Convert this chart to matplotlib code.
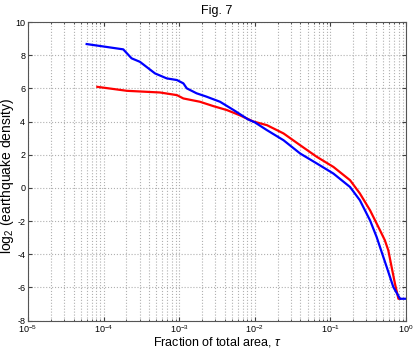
import matplotlib
matplotlib.use('Agg')
import matplotlib.pyplot as plt
from matplotlib.ticker import LogLocator, NullFormatter

plt.rcParams['font.family'] = ['Liberation Sans', 'DejaVu Sans']
plt.rcParams['mathtext.fontset'] = 'custom'
plt.rcParams['mathtext.rm'] = 'Liberation Sans'
plt.rcParams['mathtext.it'] = 'Liberation Sans:italic'
plt.rcParams['axes.unicode_minus'] = False

# blue curve (log10 of area fraction, log2 density)
blue_logx = [-4.224, -3.74, -3.63, -3.52, -3.32, -3.165, -3.03, -2.945, -2.90, -2.77,
             -2.64, -2.46, -2.28, -2.09, -2.0, -1.84, -1.62, -1.40, -1.18, -0.96,
             -0.74, -0.61, -0.476, -0.388, -0.344, -0.255, -0.168, -0.079, 0.0]
blue_y = [8.67, 8.35, 7.81, 7.6, 6.9, 6.6, 6.5, 6.3, 6.0, 5.7,
          5.5, 5.19, 4.69, 4.13, 3.95, 3.48, 2.87, 2.07, 1.47, 0.86,
          0.05, -0.75, -1.96, -2.97, -3.57, -4.78, -5.98, -6.69, -6.69]

# red curve
red_logx = [-4.083, -3.69, -3.254, -3.03, -2.945, -2.725, -2.55, -2.37, -2.20, -2.02,
            -1.84, -1.62, -1.40, -1.18, -0.96, -0.74, -0.61, -0.476, -0.344, -0.28,
            -0.234, -0.19, -0.146, -0.10, -0.08]
red_y = [6.09, 5.85, 5.75, 5.59, 5.39, 5.19, 4.93, 4.69, 4.38, 4.0,
         3.78, 3.28, 2.57, 1.87, 1.26, 0.46, -0.34, -1.35, -2.56, -3.16,
         -3.77, -4.78, -5.78, -6.69, -6.69]

blue_x = [10 ** v for v in blue_logx]
red_x = [10 ** v for v in red_logx]

fig = plt.figure(figsize=(4.15, 3.51), dpi=100)
ax = fig.add_axes([28 / 415, 1 - 320.5 / 351, 378 / 415, 298.5 / 351])

ax.plot(red_x, red_y, color='#ff0000', linewidth=1.6)
ax.plot(blue_x, blue_y, color='#0000ff', linewidth=1.6)

ax.set_xscale('log')
ax.set_xlim(1e-5, 1)
ax.set_ylim(-8, 10)
ax.set_yticks(range(-8, 11, 2))
ax.xaxis.set_major_locator(LogLocator(base=10, numticks=10))
ax.xaxis.set_minor_locator(LogLocator(base=10, subs=range(2, 10), numticks=10))
ax.xaxis.set_minor_formatter(NullFormatter())

ax.grid(True, which='major', color='#b0b0b0', linestyle=':', linewidth=0.8)
ax.grid(True, which='minor', axis='x', color='#b0b0b0', linestyle=':', linewidth=0.8)

ax.tick_params(which='both', direction='in', top=True, right=True, labelsize=6.5, colors='#404040',
               labelcolor='black', pad=2)
ax.tick_params(which='major', length=3)
ax.tick_params(which='minor', length=1.5)
for s in ax.spines.values():
    s.set_color('#555555')
    s.set_linewidth(0.8)

ax.set_xlabel(r'Fraction of total area, $\tau$', fontsize=9)
ax.set_ylabel(r'log$_2$ (earthquake density)', fontsize=10)
ax.xaxis.set_label_coords(0.5, -21.5 / 298.5, transform=ax.transAxes)
ax.yaxis.set_label_coords(-20.5 / 378, 0.5 - 5 / 298.5, transform=ax.transAxes)
ax.xaxis.label.set_va('center')
ax.yaxis.label.set_va('center')
ax.set_title('Fig. 7', fontsize=9, pad=6)

fig.savefig('out.png', dpi=100)
